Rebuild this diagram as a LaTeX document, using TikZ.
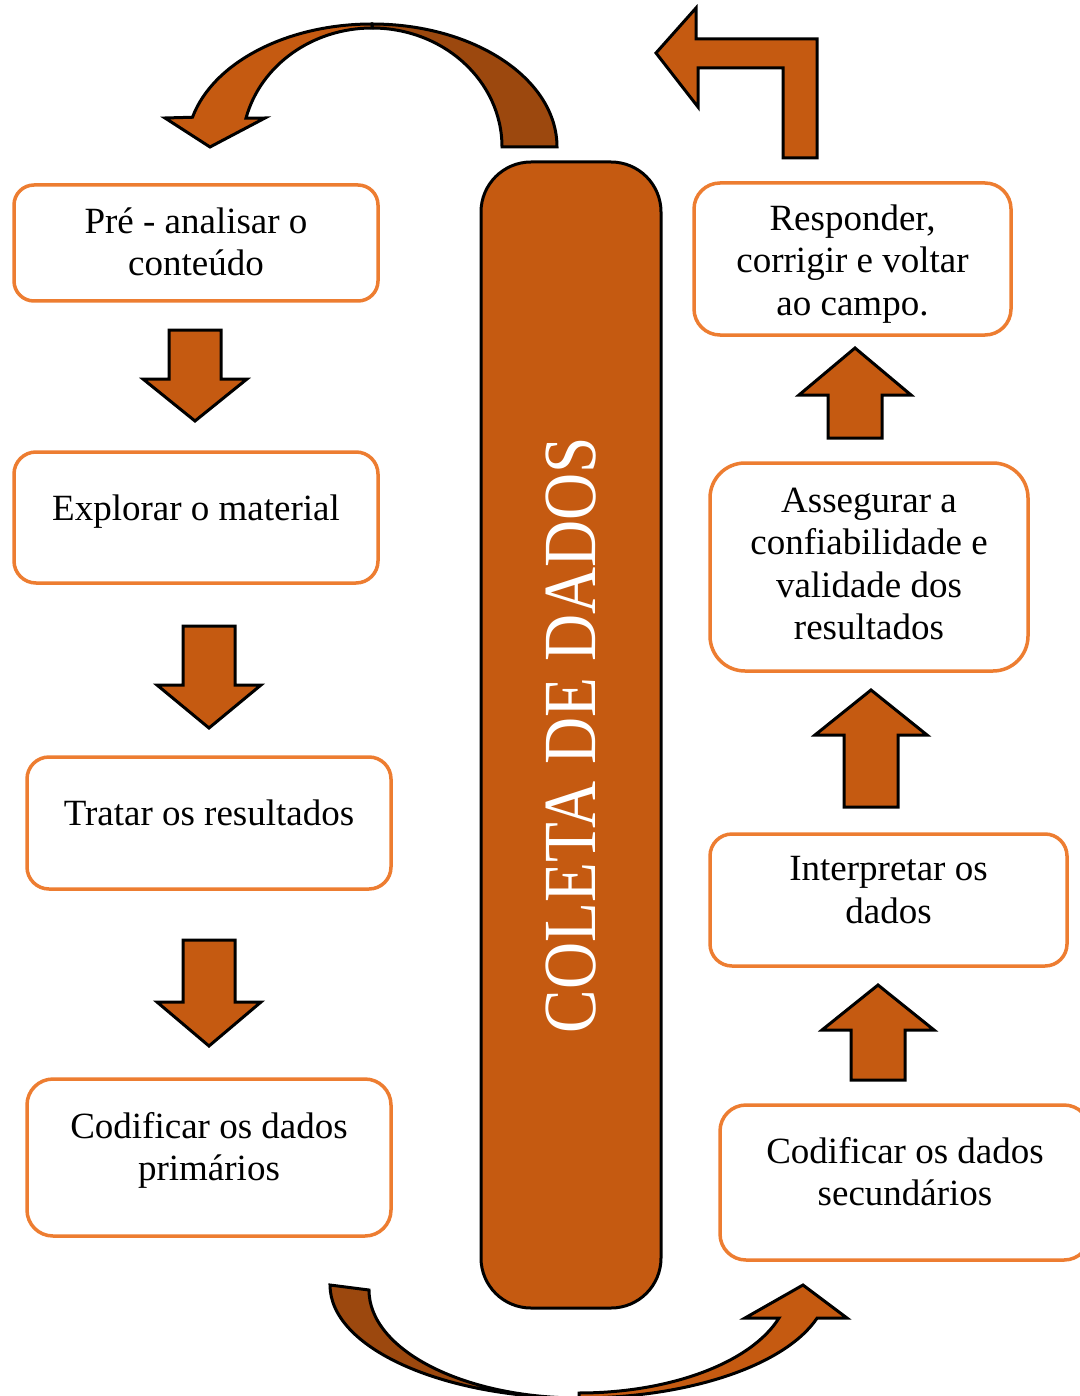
\documentclass[tikz,border=0pt]{standalone}
\usepackage{fontspec}
\setmainfont{Liberation Serif}
\usetikzlibrary{positioning}

\definecolor{boxorange}{HTML}{ED7D31}
\definecolor{rust}{HTML}{C55A11}
\definecolor{rustdark}{HTML}{9C480E}

\tikzset{
  stagebox/.style={draw=boxorange, line width=3.5pt, rounded corners=#1, fill=white, inner sep=0pt},
  stagebox/.default=24pt,
  boxtext/.style={align=center, inner sep=0pt, font=\fontsize{37}{42.5}\selectfont},
  blockarrow/.style={fill=rust, draw=black, line width=3pt},
  pillar/.style={fill=rust, draw=black, line width=3pt, rounded corners=50pt,
    text=white, font=\fontsize{75}{75}\selectfont},
}

\begin{document}
\begin{tikzpicture}[x=1pt, y=1pt]
  \useasboundingbox (0,0) rectangle (1079,-1396);

  % central column
  \node[pillar, rotate=90, minimum width=1146pt, minimum height=180pt] (coleta) at (571,-735)
    {\scalebox{0.87}[1]{COLETA DE DADOS}};

  % left column
  \node[stagebox=20pt, minimum width=364pt, minimum height=116pt,
    label={[boxtext, yshift=1pt]center:{Pré - analisar o\\conteúdo}}] (pre) at (196,-243) {};
  \node[stagebox=22pt, minimum width=364pt, minimum height=131pt,
    label={[boxtext, yshift=6pt]center:{Explorar o material}}] (expl) at (196,-517.5) {};
  \node[stagebox=22pt, minimum width=364pt, minimum height=132pt,
    label={[boxtext, yshift=10pt]center:{Tratar os resultados}}] (trat) at (209,-823) {};
  \node[stagebox=26pt, minimum width=364pt, minimum height=157pt,
    label={[boxtext, yshift=7pt]center:{Codificar os dados\\primários}}] (codp) at (209,-1157.5) {};

  % right column
  \node[stagebox=26pt, minimum width=317pt, minimum height=152pt,
    label={[boxtext, yshift=-5pt]center:{Responder,\\corrigir e voltar\\ao campo.}}] (resp) at (852.5,-259) {};
  \node[stagebox=35pt, minimum width=318pt, minimum height=208pt,
    label={[boxtext, yshift=3pt]center:{Assegurar a\\confiabilidade e\\validade dos\\resultados}}] (asse) at (869,-567) {};
  \node[stagebox=22pt, minimum width=357pt, minimum height=132pt,
    label={[boxtext, yshift=10pt]center:{Interpretar os\\dados}}] (inte) at (888.5,-900) {};
  \node[stagebox=26pt, minimum width=370pt, minimum height=155pt,
    label={[boxtext, yshift=11pt]center:{Codificar os dados\\secundários}}] (cods) at (905,-1182.5) {};

  % arrows down
  \foreach \cx/\ta/\hb/\tp in {195/330/379/421, 209/626/685/728, 209/940/1002/1046} {
    \draw[blockarrow] ({\cx-26},-\ta) -- ({\cx+26},-\ta) -- ({\cx+26},-\hb) -- ({\cx+52},-\hb)
      -- (\cx,-\tp) -- ({\cx-52},-\hb) -- ({\cx-26},-\hb) -- cycle;
  }

  % arrows up
  \foreach \cx/\bt/\hb/\tp in {855/438/395/348, 871/807/735/690, 878/1080/1030/985} {
    \draw[blockarrow] ({\cx-27},-\bt) -- ({\cx+27},-\bt) -- ({\cx+27},-\hb) -- ({\cx+56},-\hb)
      -- (\cx,-\tp) -- ({\cx-56},-\hb) -- ({\cx-27},-\hb) -- cycle;
  }

  % bent arrow back to the field
  \draw[blockarrow] (817,-39) -- (817,-158) -- (783,-158) -- (783,-68) -- (698,-68)
    -- (698,-107) -- (656,-53) -- (696,-8) -- (696,-39) -- cycle;

  % curved arrow on top
  \draw[blockarrow, fill=rustdark] (372,-24) arc[start angle=90, end angle=0, x radius=185, y radius=123]
    -- (502,-147) arc[start angle=0, end angle=90, x radius=130, y radius=119] -- cycle;
  \draw[blockarrow] (372,-24) arc[start angle=90, end angle=166, x radius=185, y radius=123]
    -- (165,-118) -- (210,-147) -- (265,-118) -- (246,-118.2)
    arc[start angle=166, end angle=90, x radius=130, y radius=119] -- cycle;

  % curved arrow at the bottom
  \draw[blockarrow, fill=rustdark] (330,-1285) arc[start angle=180, end angle=270, x radius=249, y radius=113]
    arc[start angle=270, end angle=180, x radius=210, y radius=108] -- cycle;
  \draw[blockarrow] (579,-1398) arc[start angle=270, end angle=343, x radius=249, y radius=113]
    -- (847,-1318) -- (803,-1285) -- (745,-1318) -- (779,-1318)
    arc[start angle=342.2, end angle=270, x radius=210, y radius=108] -- cycle;
\end{tikzpicture}
\end{document}
